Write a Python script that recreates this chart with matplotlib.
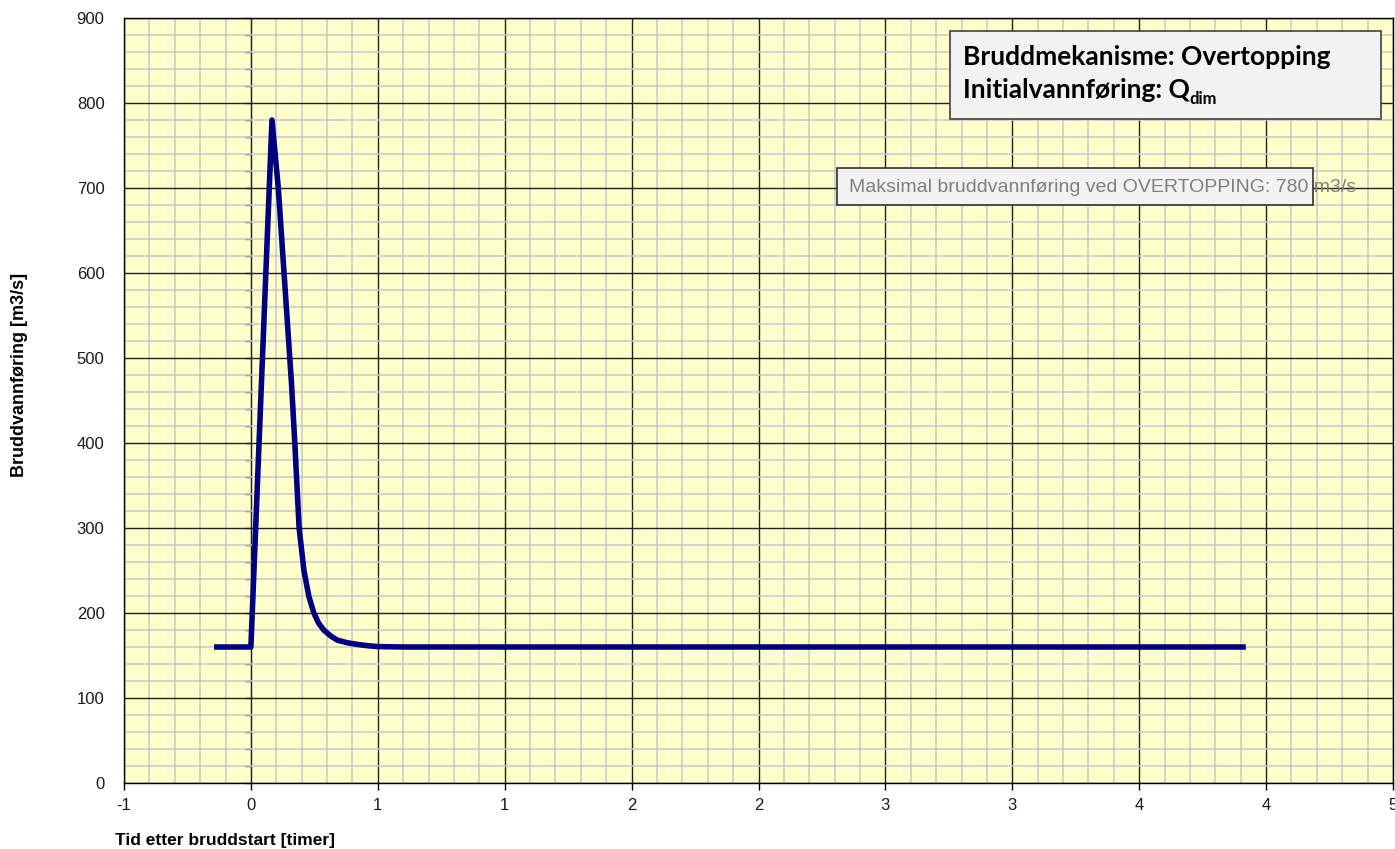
import numpy as np
import matplotlib
matplotlib.use("Agg")
import matplotlib.pyplot as plt
from matplotlib.patches import Rectangle
from matplotlib.ticker import MultipleLocator

# ---- data (hours, m3/s) ----
time_h = [-0.145, 0.0, 0.083, 0.108, 0.160, 0.173, 0.190, 0.209, 0.228, 0.248,
          0.267, 0.287, 0.314, 0.341, 0.380, 0.420, 0.460, 0.499, 0.60, 3.92]
flow = [160, 160, 780, 700, 470, 400, 300, 250, 220, 200,
        188, 180, 173, 168, 165, 163, 161.5, 160.5, 160, 160]

xtick_pos = [-0.5, 0.0, 0.5, 1.0, 1.5, 2.0, 2.5, 3.0, 3.5, 4.0, 4.5]
xtick_labels = ["-1", "0", "1", "1", "2", "2", "3", "3", "4", "4", "5"]
ytick_pos = [0, 100, 200, 300, 400, 500, 600, 700, 800, 900]

title_line1 = "Bruddmekanisme: Overtopping"
title_line2 = "Initialvannføring: Q"
title_sub = "dim"
note_text = "Maksimal bruddvannføring ved OVERTOPPING: 780 m3/s"

plt.rcParams['font.family'] = ['Liberation Sans', 'DejaVu Sans']

W, H = 1395, 849
fig = plt.figure(figsize=(W / 100, H / 100), dpi=100)
fig.patch.set_facecolor('white')
ax = fig.add_axes([124 / W, (H - 783) / H, (1393 - 124) / W, (783 - 18) / H])
ax.set_facecolor('#FFFFCC')

ax.set_xlim(-0.5, 4.5)
ax.set_ylim(0, 900)
ax.set_xticks(xtick_pos)
ax.set_xticklabels(xtick_labels)
ax.set_yticks(ytick_pos)
ax.xaxis.set_minor_locator(MultipleLocator(0.1))
ax.yaxis.set_minor_locator(MultipleLocator(20))

ax.grid(which='minor', color='#C8C8C8', linewidth=1.1, zorder=0)
ax.grid(which='major', color='#202020', linewidth=1.0, zorder=0.5)
ax.set_axisbelow(True)

ax.tick_params(axis='x', which='major', direction='out', length=5, width=1,
               pad=6, labelsize=12, colors='black')
ax.tick_params(axis='x', which='minor', length=0)
ax.tick_params(axis='y', which='both', length=0, pad=14, labelsize=12)
for lab in ax.get_xticklabels() + ax.get_yticklabels():
    lab.set_color('#1a1a1a')
for s in ax.spines.values():
    s.set_color('black')
    s.set_linewidth(1.0)

# secondary y-axis line at x=0 with tick marks
sec = ax.secondary_yaxis(0.1)
sec.set_yticks(ytick_pos)
sec.yaxis.set_minor_locator(MultipleLocator(20))
sec.tick_params(which='both', direction='out', length=4, width=1, labelleft=False,
                labelright=False, color='#303030')
for s in sec.spines.values():
    s.set_color('#303030')

ax.plot(time_h, flow, color='#000080', linewidth=4.0, solid_capstyle='butt',
        solid_joinstyle='round', zorder=3)

# title box
def px2ax(x, y):
    return ((x - 124) / (1393 - 124), (783 - y) / (783 - 18))

x0, y0 = px2ax(950, 119)
x1, y1 = px2ax(1381, 31)
ax.add_patch(Rectangle((x0, y0), x1 - x0, y1 - y0, transform=ax.transAxes,
                       facecolor='#F2F2F2', edgecolor='#404040', linewidth=1.2,
                       zorder=5))
tx, ty = px2ax(963, 57)
ax.text(tx, ty, title_line1, transform=ax.transAxes, fontsize=19,
        fontweight='bold', family=['Lato', 'DejaVu Sans'], va='center',
        ha='left', color='black', zorder=6)
tx, ty = px2ax(963, 90)
t2 = ax.text(tx, ty, title_line2, transform=ax.transAxes, fontsize=19,
             fontweight='bold', family=['Lato', 'DejaVu Sans'], va='center',
             ha='left', color='black', zorder=6)
fig.canvas.draw()
bb = t2.get_window_extent()
sx = bb.x1 / W
ax.text(sx, (H - 99) / H, title_sub, transform=fig.transFigure, fontsize=12,
        fontweight='bold', family=['Lato', 'DejaVu Sans'], va='center',
        ha='left', color='black', zorder=6)

# note box
x0, y0 = px2ax(837, 205)
x1, y1 = px2ax(1313, 168)
ax.add_patch(Rectangle((x0, y0), x1 - x0, y1 - y0, transform=ax.transAxes,
                       facecolor='#F2F2F2', edgecolor='#303030', linewidth=1.2,
                       zorder=5))
tx, ty = px2ax(849, 187)
ax.text(tx, ty, note_text, transform=ax.transAxes, fontsize=14,
        va='center', ha='left', color='#7F7F7F', zorder=6)

fig.text(225 / W, (H - 840) / H, "Tid etter bruddstart [timer]", fontsize=12.5,
         fontweight='bold', ha='center', va='center', color='black')
fig.text(20 / W, (H - 375) / H, "Bruddvannføring [m3/s]", fontsize=13,
         fontweight='bold', ha='center', va='center', rotation=90, color='black')

fig.savefig('out.png', dpi=100)
